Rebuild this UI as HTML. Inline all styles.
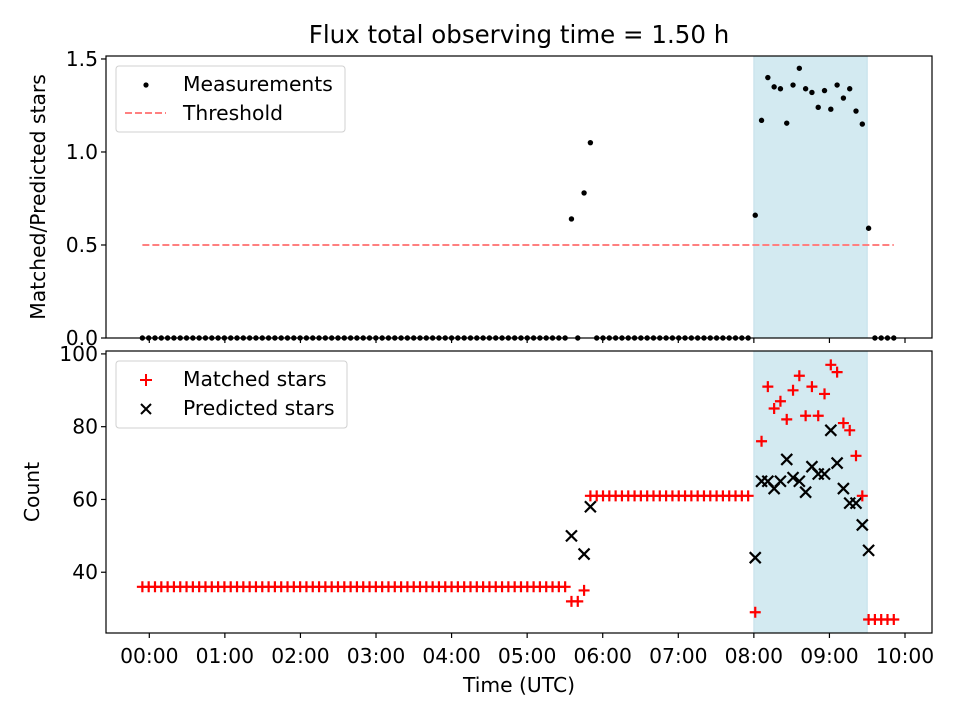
<!DOCTYPE html>
<html><head><meta charset="utf-8"><style>
body{margin:0;background:#fff;overflow:hidden}
svg{display:block;font-family:"DejaVu Sans","Liberation Sans",sans-serif}
</style></head><body>
<svg id="c" width="960" height="720" viewBox="0 0 960 720">
<rect width="960" height="720" fill="#fff"/>
<g id="g"></g>
<text x="519" y="43" font-size="24.5" text-anchor="middle">Flux total observing time = 1.50 h</text>
<text x="45" y="197" font-size="20.3" text-anchor="middle" transform="rotate(-90 45 197)">Matched/Predicted stars</text>
<text x="39" y="492" font-size="20.3" text-anchor="middle" transform="rotate(-90 39 492)">Count</text>
<text x="519" y="692" font-size="20.3" text-anchor="middle">Time (UTC)</text>
<g>
<rect x="116" y="66" width="229" height="66" rx="3" fill="#fff" fill-opacity="0.8" stroke="#d0d0d0"/>
<circle cx="146" cy="85" r="2.6" fill="#000"/>
<text x="183" y="91" font-size="20.3">Measurements</text>
<line x1="125" x2="166" y1="113" y2="113" stroke="#ff8080" stroke-width="2" stroke-dasharray="7,3"/>
<text x="183" y="120" font-size="20.3">Threshold</text>
</g>
<g>
<rect x="116" y="361" width="231" height="67" rx="3" fill="#fff" fill-opacity="0.8" stroke="#d0d0d0"/>
<path d="M140,380L152,380M146,374L146,386" stroke="#f00" stroke-width="2"/>
<text x="183" y="386" font-size="20.3">Matched stars</text>
<path d="M141,404L151,414M141,414L151,404" stroke="#000" stroke-width="2"/>
<text x="183" y="415" font-size="20.3">Predicted stars</text>
</g>
</svg>
<script>
// Run A: samples before the observing window (minutes from 00:00)
const runAStart = -5.5, runAStep = 5.01;
const runAMatched = [36,36,36,36,36,36,36,36,36,36,36,36,36,36,36,36,36,36,36,36,36,36,36,36,36,36,36,36,36,36,36,36,36,36,36,36,36,36,36,36,36,36,36,36,36,36,36,36,36,36,36,36,36,36,36,36,36,36,36,36,36,36,36,36,36,36,36,36,32,32,35,61,61,61,61,61,61,61,61,61,61,61,61,61,61,61,61,61,61,61,61,61,61,61,61,61,61];
const runAPredicted = [0,0,0,0,0,0,0,0,0,0,0,0,0,0,0,0,0,0,0,0,0,0,0,0,0,0,0,0,0,0,0,0,0,0,0,0,0,0,0,0,0,0,0,0,0,0,0,0,0,0,0,0,0,0,0,0,0,0,0,0,0,0,0,0,0,0,0,0,50,0,45,58,0,0,0,0,0,0,0,0,0,0,0,0,0,0,0,0,0,0,0,0,0,0,0,0,0];
const runARatio = [0,0,0,0,0,0,0,0,0,0,0,0,0,0,0,0,0,0,0,0,0,0,0,0,0,0,0,0,0,0,0,0,0,0,0,0,0,0,0,0,0,0,0,0,0,0,0,0,0,0,0,0,0,0,0,0,0,0,0,0,0,0,0,0,0,0,0,0,0.64,0,0.78,1.05,0,0,0,0,0,0,0,0,0,0,0,0,0,0,0,0,0,0,0,0,0,0,0,0,0];
// Run B: samples inside/after the observing window
const runBStart = 481.1, runBStep = 5.0;
const runBMatched = [29,76,91,85,87,82,90,94,83,91,83,89,97,95,81,79,72,61,27,27,27,27,27];
const runBPredicted = [44,65,65,63,65,71,66,65,62,69,67,67,79,70,63,59,59,53,46,0,0,0,0];
const runBRatio = [0.66,1.17,1.40,1.35,1.34,1.155,1.36,1.45,1.34,1.32,1.24,1.33,1.23,1.36,1.29,1.34,1.22,1.15,0.59,0,0,0,0];
const xTickLabels = ["00:00","01:00","02:00","03:00","04:00","05:00","06:00","07:00","08:00","09:00","10:00"];
const topYTicks = [0,0.5,1.0,1.5];
const botYTicks = [40,60,80,100];
const spanStartMin = 480, spanEndMin = 570;
const threshold = 0.5;

const NS="http://www.w3.org/2000/svg";
const G=document.getElementById('g');
function mk(tag,attrs,parent){const e=document.createElementNS(NS,tag);for(const k in attrs)e.setAttribute(k,attrs[k]);(parent||G).appendChild(e);return e;}
const L=106,R=932;
const T1=56,B1=338,T2=351,B2=633;
const xs=m=>149.3+m/60*75.57;
const y1=v=>338-(v/1.516)*282;
const y2=v=>633-(v-23.3)/(100.8-23.3)*282;

const times=[],matched=[],pred=[],ratio=[];
runAMatched.forEach((v,i)=>{times.push(runAStart+i*runAStep);matched.push(v);pred.push(runAPredicted[i]);ratio.push(runARatio[i]);});
runBMatched.forEach((v,i)=>{times.push(runBStart+i*runBStep);matched.push(v);pred.push(runBPredicted[i]);ratio.push(runBRatio[i]);});

[[T1,B1],[T2,B2]].forEach(([t,b],pi)=>{
  const s=mk('rect',{x:xs(spanStartMin),y:t,width:xs(spanEndMin)-xs(spanStartMin),height:b-t,fill:'#d3eaf1',stroke:'#c4e0ea','stroke-width':1});
  
  
});

const th=mk('line',{x1:xs(times[0]),x2:xs(times[times.length-1]),y1:y1(threshold),y2:y1(threshold),stroke:'#ff8080','stroke-width':2,'stroke-dasharray':'7,3'});



const gm=mk('g',{});


times.forEach((t,i)=>{const c=mk('circle',{cx:xs(t),cy:y1(ratio[i]),r:2.7,fill:'#000'},gm);

});

const gp=mk('g',{});


times.forEach((t,i)=>{if(pred[i]<=0)return;const x=xs(t),y=y2(pred[i]),d=5.5;
const p=mk('path',{d:`M${x-d},${y-d}L${x+d},${y+d}M${x-d},${y+d}L${x+d},${y-d}`,stroke:'#000','stroke-width':2.2},gp);

});

const gmt=mk('g',{});


times.forEach((t,i)=>{const x=xs(t),y=y2(matched[i]),d=5.5;
const p=mk('path',{d:`M${x-d},${y}L${x+d},${y}M${x},${y-d}L${x},${y+d}`,stroke:'#ff0000','stroke-width':2.2},gmt);

});

[[T1,B1,'top-axes-frame'],[T2,B2,'bottom-axes-frame']].forEach(([t,b,n])=>{
  const r=mk('rect',{x:L,y:t,width:R-L,height:b-t,fill:'none',stroke:'#000','stroke-width':1.2});
  
  
});

xTickLabels.forEach((lab,i)=>{const x=xs(i*60);
  mk('line',{x1:x,x2:x,y1:B1,y2:B1+5,stroke:'#000','stroke-width':1.2});
  mk('line',{x1:x,x2:x,y1:B2,y2:B2+5,stroke:'#000','stroke-width':1.2});
  const tx=mk('text',{x:x,y:B2+30,'font-size':20.3,'text-anchor':'middle'});tx.textContent=lab;
  
  
});
topYTicks.forEach(v=>{const y=y1(v);
  mk('line',{x1:L-5,x2:L,y1:y,y2:y,stroke:'#000','stroke-width':1.2});
  const tx=mk('text',{x:L-8,y:y+7,'font-size':20.3,'text-anchor':'end'});tx.textContent=v.toFixed(1);
  
  
});
botYTicks.forEach(v=>{const y=y2(v);
  mk('line',{x1:L-5,x2:L,y1:y,y2:y,stroke:'#000','stroke-width':1.2});
  const tx=mk('text',{x:L-8,y:y+7,'font-size':20.3,'text-anchor':'end'});tx.textContent=String(v);
  
  
});
</script>
</body></html>
